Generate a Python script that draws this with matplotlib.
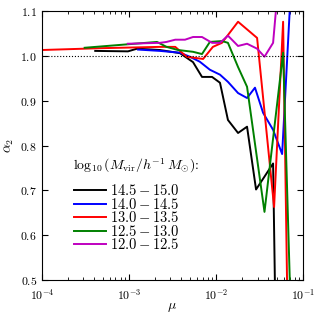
import matplotlib
matplotlib.use('Agg')
import matplotlib.pyplot as plt
import numpy as np

plt.rcParams['mathtext.fontset'] = 'cm'
plt.rcParams['font.family'] = 'serif'
plt.rcParams['font.serif'] = ['cmr10', 'DejaVu Serif']
plt.rcParams['axes.unicode_minus'] = False

labels = [r'$\mathbf{14.5}-\mathbf{15.0}$', r'$\mathbf{14.0}-\mathbf{14.5}$',
          r'$\mathbf{13.0}-\mathbf{13.5}$', r'$\mathbf{12.5}-\mathbf{13.0}$',
          r'$\mathbf{12.0}-\mathbf{12.5}$']
colors = ['black', 'blue', 'red', 'green', 'm']

mu_black = [4.1e-4, 9.75e-4, 1.24e-3, 2.27e-3, 3.85e-3, 5.44e-3, 6.9e-3, 9.0e-3, 1.11e-2,
            1.37e-2, 1.79e-2, 2.27e-2, 2.88e-2, 4.52e-2, 5.0e-2]
a2_black = [1.011, 1.010, 1.016, 1.013, 1.006, 0.986, 0.953, 0.953, 0.940,
            0.857, 0.828, 0.842, 0.702, 0.760, 0.2]

mu_blue = [1.27e-3, 2.27e-3, 3.85e-3, 5.0e-3, 6.5e-3, 8.5e-3, 1.11e-2, 1.37e-2, 1.79e-2,
           2.27e-2, 2.8e-2, 3.47e-2, 4.52e-2, 5.74e-2, 7.7e-2]
a2_blue = [1.014, 1.011, 1.007, 0.998, 0.987, 0.969, 0.958, 0.942, 0.917,
           0.906, 0.929, 0.873, 0.835, 0.781, 1.25]

mu_red = [1e-4, 4.6e-4, 2.27e-3, 3.4e-3, 4.6e-3, 7.1e-3, 9.2e-3, 1.17e-2, 1.79e-2,
          2.96e-2, 4.64e-2, 5.89e-2, 6.9e-2]
a2_red = [1.013, 1.017, 1.020, 1.020, 0.998, 0.993, 1.020, 1.029, 1.076,
          1.040, 0.663, 1.076, 0.2]

mu_green = [3.1e-4, 2.1e-3, 2.7e-3, 3.66e-3, 5.44e-3, 6.9e-3, 8.5e-3, 1.17e-2, 1.37e-2,
            1.79e-2, 2.27e-2, 3.6e-2, 5.89e-2, 7.8e-2]
a2_green = [1.018, 1.031, 1.020, 1.013, 1.009, 1.004, 1.031, 1.033, 1.029,
            0.975, 0.931, 0.652, 1.007, 0.2]

mu_mag = [9.7e-4, 2.27e-3, 2.7e-3, 3.4e-3, 4.4e-3, 5.44e-3, 6.9e-3, 9.0e-3, 1.11e-2,
          1.37e-2, 1.79e-2, 2.27e-2, 2.96e-2, 3.6e-2, 4.52e-2, 5.4e-2]
a2_mag = [1.027, 1.029, 1.031, 1.036, 1.036, 1.042, 1.042, 1.029, 1.029,
          1.045, 1.022, 1.027, 1.016, 0.998, 1.029, 1.2]

series = [(mu_black, a2_black), (mu_blue, a2_blue), (mu_red, a2_red),
          (mu_green, a2_green), (mu_mag, a2_mag)]

xticks = [1e-4, 1e-3, 1e-2, 1e-1]
xticklabels = [r'$10^{-4}$', r'$10^{-3}$', r'$10^{-2}$', r'$10^{-1}$']
yticks = [0.5, 0.6, 0.7, 0.8, 0.9, 1.0, 1.1]
yticklabels = [r'$%.1f$' % v for v in yticks]

fig = plt.figure(figsize=(3.27, 3.14), dpi=100)
ax = fig.add_axes([0.128, 0.108, 0.799, 0.857])

for (x, y), c, lab in zip(series, colors, labels):
    ax.plot(x, y, color=c, lw=1.4, label=lab)

ax.axhline(1.0, color='black', ls=':', lw=0.8)

ax.set_xscale('log')
ax.set_xlim(1e-4, 1e-1)
ax.set_ylim(0.5, 1.1)
ax.set_xticks(xticks)
ax.set_xticklabels(xticklabels)
ax.set_yticks(yticks)
ax.set_yticklabels(yticklabels)
ax.tick_params(which='both', direction='in', top=True, right=True, labelsize=8.5)
ax.tick_params(which='major', length=4)
ax.tick_params(which='minor', length=2)
ax.tick_params(axis='x', pad=5)
ax.set_xlabel(r'$\mu$', fontsize=10, labelpad=-1)
ax.set_ylabel(r'$\alpha_2$', fontsize=10, labelpad=3)

ax.text(0.118, 0.424, r'$\log_{10}(M_{\rm vir}/h^{-1}\,M_{\odot})$:', fontsize=10,
        transform=ax.transAxes, ha='left', va='center')
ax.legend(loc='upper left', bbox_to_anchor=(0.123, 0.36), frameon=False,
          borderaxespad=0, borderpad=0,
          fontsize=10.5, handlelength=2.2, handletextpad=0.3, labelspacing=-0.1)

fig.savefig('out.png', dpi=100)
